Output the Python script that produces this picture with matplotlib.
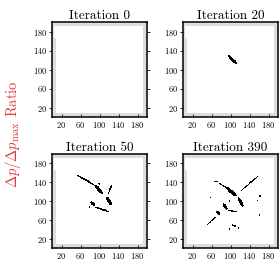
import numpy as np
import matplotlib
matplotlib.use('Agg')
import matplotlib.pyplot as plt
from matplotlib.colors import ListedColormap

plt.rcParams['font.family'] = 'serif'
plt.rcParams['font.serif'] = ['cmr10']
plt.rcParams['mathtext.fontset'] = 'cm'
plt.rcParams['axes.formatter.use_mathtext'] = True

titles = ['Iteration 0', 'Iteration 20', 'Iteration 50', 'Iteration 390']
ticks = [20, 60, 100, 140, 180]
ylabel = r'$\Delta p / \Delta p_{\max}$ Ratio'

# grey frame of the domain mask: (x0, x1, y0, y1)
border_boxes = [(0, 200, 192, 200), (0, 5, 167, 200), (0, 8, 0, 167),
                (192, 200, 0, 200), (0, 200, 0, 8)]

# black regions as ellipses: (x0, y0, x1, y1, width)
shapes_it0 = []
shapes_it20 = [(95, 130, 113, 112, 7)]
shapes_it50 = [
    (53, 155, 88, 135, 4), (88, 135, 95, 130, 3.5),
    (91, 133, 108, 114, 7.5), (97, 137, 102, 136, 3),
    (126, 133, 118, 115, 3.5), (115, 109, 125, 91, 8),
    (81, 98, 91, 90, 6), (90, 88, 119, 77, 4.5), (77, 88, 80, 87, 3),
]
shapes_it390 = [
    (66, 142, 73, 141, 3), (76, 138, 92, 128, 3),
    (91, 129, 113, 110, 8), (116, 108, 127, 88, 7),
    (159, 154, 120, 120, 3), (96, 101, 99, 98, 4),
    (85, 95, 93, 81, 6), (95, 80, 117, 76, 3),
    (70, 79, 78, 71, 5.5), (50, 50, 71, 67, 3),
    (56, 108, 58, 106, 3), (156, 103, 157, 100, 3),
    (164, 113, 161, 108, 3), (161, 71, 163, 70, 3),
    (102, 50, 112, 46, 4), (116, 44, 117, 42, 3), (97, 41, 99, 40, 3),
]
all_shapes = [shapes_it0, shapes_it20, shapes_it50, shapes_it390]

n = 200
xs, ys = np.meshgrid(np.arange(n) + 0.5, np.arange(n) + 0.5)


def make_mask(shapes):
    img = np.zeros((n, n))
    for x0, x1, y0, y1 in border_boxes:
        img[(xs >= x0) & (xs < x1) & (ys >= y0) & (ys < y1)] = 1
    for x0, y0, x1, y1, w in shapes:
        cx, cy = (x0 + x1) / 2, (y0 + y1) / 2
        L = max(np.hypot(x1 - x0, y1 - y0), w)
        ux, uy = (x1 - x0), (y1 - y0)
        nrm = np.hypot(ux, uy) or 1.0
        ux, uy = ux / nrm, uy / nrm
        a = (xs - cx) * ux + (ys - cy) * uy
        b = -(xs - cx) * uy + (ys - cy) * ux
        img[(a / (L / 2)) ** 2 + (b / (w / 2)) ** 2 <= 1] = 2
    return img


cmap = ListedColormap(['white', '#dddddd', 'black'])

fig = plt.figure(figsize=(2.79, 2.62), dpi=100)
positions = [
    [52 / 279, 1 - 117 / 262, 95 / 279, 95 / 262],
    [183 / 279, 1 - 117 / 262, 95 / 279, 95 / 262],
    [52 / 279, 1 - 248 / 262, 95 / 279, 94 / 262],
    [183 / 279, 1 - 248 / 262, 95 / 279, 94 / 262],
]

for pos, title, shapes in zip(positions, titles, all_shapes):
    ax = fig.add_axes(pos)
    ax.imshow(make_mask(shapes), cmap=cmap, vmin=0, vmax=2, origin='lower',
              extent=(0, n, 0, n), interpolation='nearest')
    ax.set_xlim(0, n)
    ax.set_ylim(0, n)
    ax.set_aspect('auto')
    ax.set_xticks(ticks)
    ax.set_yticks(ticks)
    ax.tick_params(axis='y', direction='out', length=2, width=0.6,
                   labelsize=6, pad=1.5)
    ax.tick_params(axis='y', which='both', right=True, labelright=False)
    ax.tick_params(axis='x', direction='in', length=2, width=0.6,
                   labelsize=6, pad=2)
    for s in ax.spines.values():
        s.set_linewidth(1.1)
    ax.set_title(title, fontsize=9.5, pad=2.5)

fig.text(0.045, 1 - 134 / 262, ylabel, rotation=90, color='#e0393e',
         fontsize=10.5, ha='center', va='center')

fig.savefig('out.png', dpi=100)
